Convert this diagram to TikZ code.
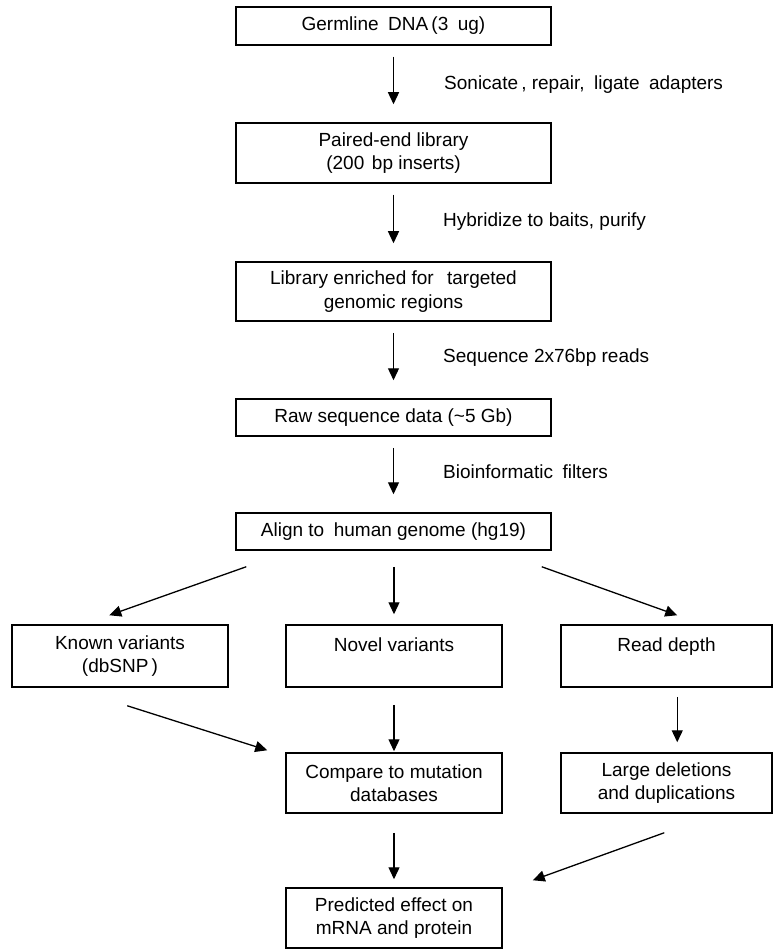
\documentclass[tikz,border=0pt]{standalone}
\usepackage{fontspec}
\setmainfont{Liberation Sans}
\usetikzlibrary{arrows.meta,calc}
\begin{document}
\begin{tikzpicture}[x=1pt,y=-1pt,
  every node/.style={font=\fontsize{19pt}{23.5pt}\selectfont},
  box/.style={draw=black,line width=1.5pt,inner sep=0pt,align=center,rectangle},
  lbl/.style={anchor=west,inner sep=0pt},
  arr/.style={line width=1.3pt,-{Triangle[length=12pt,width=11pt]}},
  varr/.style={arr,shorten <=11pt,shorten >=18pt}]
\useasboundingbox[fill=white] (0,0) rectangle (773,949);
% main column
\node[box,minimum width=315pt,minimum height=38pt] (germ) at (393.5,26) {Germline\hspace{0.5em}DNA\,(3\hspace{0.5em}ug)};
\node[box,minimum width=315pt,minimum height=60pt] (paired) at (393.5,153) {Paired-end library\\(200\hspace{0.4em}bp inserts)};
\node[box,minimum width=315pt,minimum height=59pt] (enrich) at (393.5,291.5) {Library enriched for\hspace{0.7em}targeted\\genomic regions};
\node[box,minimum width=315pt,minimum height=37pt] (raw) at (393.5,417.5) {Raw sequence data (\textasciitilde5 Gb)};
\node[box,minimum width=315pt,minimum height=37pt] (align) at (393.5,531.5) {Align to\hspace{0.5em}human genome (hg19)};
% row of three
\node[box,minimum width=216pt,minimum height=62pt] (known) at (120,656) {Known variants\\(dbSNP\,)};
\node[box,minimum width=216pt,minimum height=62pt] (novel) at (394,656) {Novel variants\\\mbox{}};
\node[box,minimum width=211pt,minimum height=62pt] (depth) at (666.5,656) {Read depth\\\mbox{}};
% row of two
\node[box,minimum width=216pt,minimum height=60pt] (compare) at (394,783) {Compare to mutation\\databases};
\node[box,minimum width=211pt,minimum height=60pt] (large) at (666.5,783) {Large deletions\\and duplications};
% final
\node[box,minimum width=216pt,minimum height=60pt] (pred) at (394,918) {Predicted effect on\\mRNA and protein};
% step labels
\node[lbl] (l1) at (444,85) {Sonicate\,, repair,\hspace{0.5em}ligate\hspace{0.5em}adapters};
\node[lbl] (l2) at (443,222) {Hybridize to baits, purify};
\node[lbl] (l3) at (443,358) {Sequence 2x76bp reads};
\node[lbl] (l4) at (443,472) {Bioinformatic\hspace{0.5em}filters};
% connectors
\draw[varr] (germ) -- (paired);
\draw[varr] (paired) -- (enrich);
\draw[varr] (enrich) -- (raw);
\draw[varr] (raw) -- (align);
\draw[arr] ($(align.south west)+(11,16)$) -- ($(known.north west)+(98,-9)$);
\draw[arr] ($(align.south)+(0.5,16)$) -- ($(novel.north)+(0,-10)$);
\draw[arr] ($(align.south east)+(-10,16)$) -- ($(depth.north west)+(117,-9)$);
\draw[arr] ($(known.south west)+(116,18)$) -- ($(compare.north west)+(-18,-2)$);
\draw[arr] ($(novel.south)+(0,17)$) -- ($(compare.north)+(0,-1)$);
\draw[arr] ($(depth.south west)+(117,9)$) -- ($(large.north west)+(117,-10)$);
\draw[arr] ($(compare.south)+(0,19)$) -- ($(pred.north)+(0,-8)$);
\draw[arr] ($(large.south west)+(104,19)$) -- ($(pred.north east)+(30,-7)$);
\end{tikzpicture}
\end{document}
